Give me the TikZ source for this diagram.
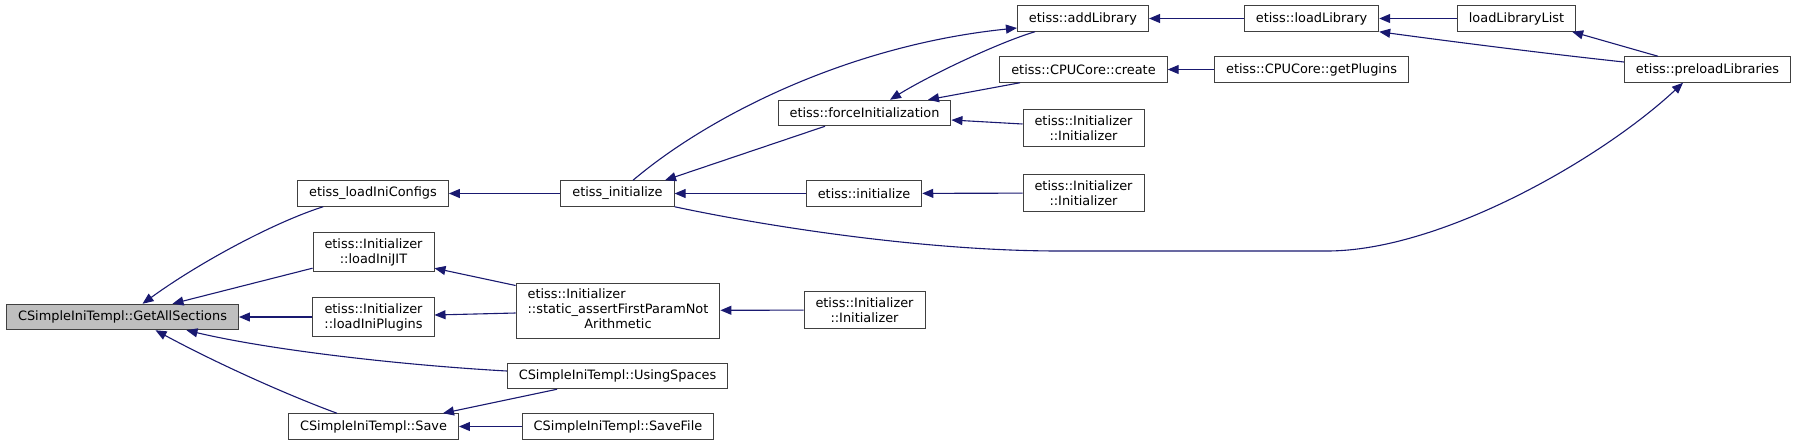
\documentclass[tikz,border=0pt]{standalone}
\usepackage{fontspec,xcolor,tikz}
\setmainfont{DejaVu Sans}
\usetikzlibrary{arrows.meta,positioning}
\definecolor{edgeblue}{RGB}{25,25,112}
\definecolor{boxgray}{RGB}{191,191,191}
\tikzset{
  fn/.style={draw=black!75,line width=1pt,fill=white,inner xsep=11.5pt,inner ysep=6pt,
    minimum height=25.5pt,align=center,font=\fontsize{12.9}{15}\selectfont},
  cur/.style={fn,fill=boxgray},
  call/.style={draw=edgeblue,line width=1.1pt,-{Triangle[length=11pt,width=9pt]}}
}

\begin{document}
\begin{tikzpicture}[x=1pt,y=-1pt]
\useasboundingbox (0,0) rectangle (1796,445);
\node[cur] (gas) at (122.5,317) {CSimpleIniTempl::GetAllSections};
\node[fn] (cfg) at (373,193.5) {etiss\_loadIniConfigs};
\node[fn] (jit) at (373.5,252) {etiss::Initializer\\::loadIniJIT};
\node[fn] (plg) at (373.5,317) {etiss::Initializer\\::loadIniPlugins};
\node[fn] (save) at (373.5,426.5) {CSimpleIniTempl::Save};
\node[fn] (init) at (617.5,193.5) {etiss\_initialize};
\node[fn,inner ysep=5pt] (sa) at (618,310.5) {\begin{tabular}{@{}l@{}}etiss::Initializer\\::static\_assertFirstParamNot\\\multicolumn{1}{@{}c@{}}{Arithmetic}\end{tabular}};
\node[fn] (usp) at (617.5,376) {CSimpleIniTempl::UsingSpaces};
\node[fn] (sf) at (618,426.5) {CSimpleIniTempl::SaveFile};
\node[fn] (force) at (864.5,113) {etiss::forceInitialization};
\node[fn] (einit) at (864,193.5) {etiss::initialize};
\node[fn] (ctorc) at (864.5,310) {etiss::Initializer\\::Initializer};
\node[fn] (addlib) at (1083,18.5) {etiss::addLibrary};
\node[fn] (create) at (1083.5,69.5) {etiss::CPUCore::create};
\node[fn] (ctora) at (1083.5,128) {etiss::Initializer\\::Initializer};
\node[fn] (ctorb) at (1083.5,193) {etiss::Initializer\\::Initializer};
\node[fn] (loadlib) at (1311.5,18.5) {etiss::loadLibrary};
\node[fn] (plugins) at (1311.5,69.5) {etiss::CPUCore::getPlugins};
\node[fn] (liblist) at (1516.5,18.5) {loadLibraryList};
\node[fn] (preload) at (1707.5,69.5) {etiss::preloadLibraries};

\draw[call] ([xshift=26pt]cfg.south west) .. controls (275,222) and (200,262) .. ([xshift=20pt]gas.north);
\draw[call] ([yshift=4pt]jit.south west) -- ([xshift=50pt]gas.north);
\draw[call] (plg) -- (gas);
\draw[call] ([yshift=5pt]usp.west) .. controls (400,365) and (270,350) .. ([xshift=64pt]gas.south);
\draw[call] ([xshift=-36.5pt]save.north) .. controls (290,396) and (220,365) .. ([xshift=33pt]gas.south);
\draw[call] (init) -- (cfg);
\draw[call] ([yshift=-3pt]sa.north west) -- ([yshift=4pt]jit.south east);
\draw[call] ([yshift=-2.5pt]sa.west) -- ([yshift=2pt]plg.east);
\draw[call] ([xshift=-60.5pt]usp.south) -- ([xshift=-16pt]save.north east);
\draw[call] (sf) -- (save);
\draw[call] ([xshift=15.5pt]init.north) .. controls (710,115) and (850,45) .. ([yshift=-9.5pt]addlib.west);
\draw[call] ([xshift=-39.5pt]force.south) -- ([xshift=47.5pt]init.north);
\draw[call] (einit) -- (init);
\draw[call] (init.south east) .. controls (760,225) and (920,251) .. (1060,251) -- (1327,251)
  .. controls (1440,251) and (1600,160) .. ([xshift=-24.5pt]preload.south);
\draw[call] ([xshift=-48pt]addlib.south) .. controls (1000,42) and (930,75) .. ([xshift=25.5pt]force.north);
\draw[call] ([xshift=-63.5pt]create.south) -- ([xshift=63.5pt]force.north);
\draw[call] ([yshift=4pt]ctora.west) -- ([yshift=-7pt]force.east);
\draw[call] (ctorb) -- (einit);
\draw[call] (ctorc) -- (sa);
\draw[call] (plugins) -- (create);
\draw[call] (loadlib) -- (addlib);
\draw[call] (liblist) -- (loadlib);
\draw[call] ([yshift=7.5pt]preload.west) .. controls (1540,53) and (1440,40) .. (loadlib.south east);
\draw[call] ([xshift=-49.5pt]preload.north) -- ([xshift=-4pt]liblist.south east);
\end{tikzpicture}
\end{document}
